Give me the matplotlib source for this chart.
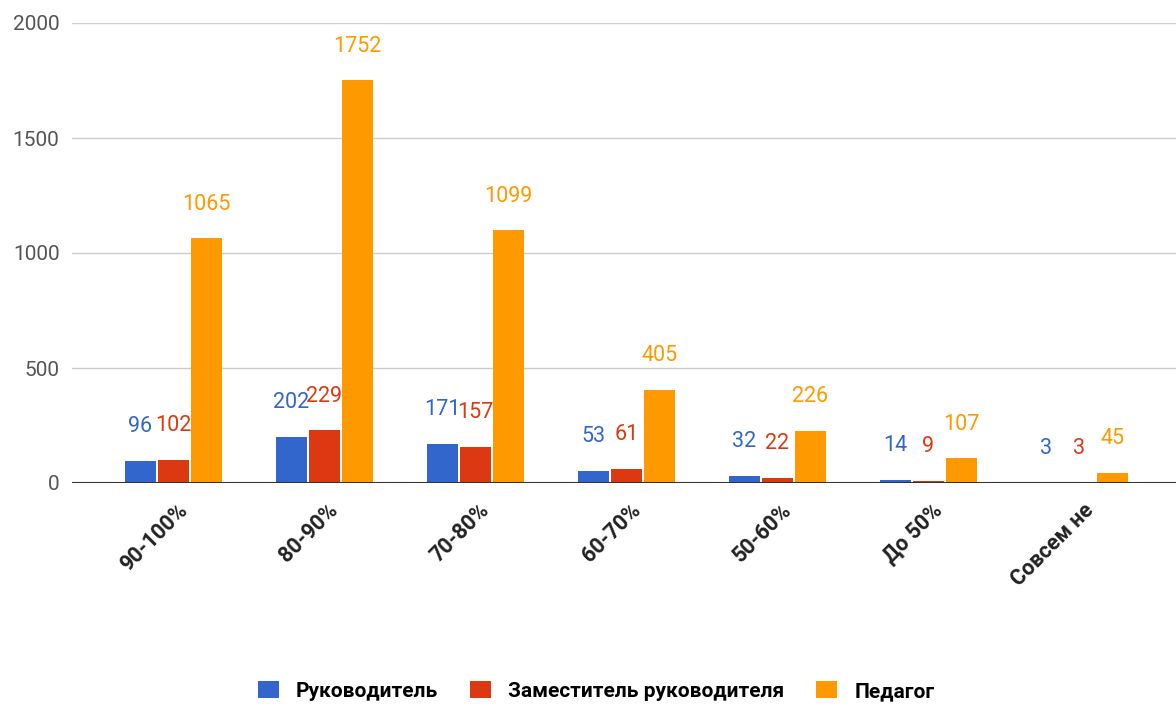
import matplotlib
matplotlib.use('Agg')
from matplotlib import pyplot as plt
from matplotlib import transforms
import numpy as np

categories = ['90-100%', '80-90%', '70-80%', '60-70%', '50-60%', 'До 50%', 'Совсем не']
series_names = ['Руководитель', 'Заместитель руководителя', 'Педагог']
rukovoditel = [96, 202, 171, 53, 32, 14, 3]
zamestitel = [102, 229, 157, 61, 22, 9, 3]
pedagog = [1065, 1752, 1099, 405, 226, 107, 45]
colors = ['#3366cc', '#dc3912', '#ff9900']

plt.rcParams['font.family'] = ['Roboto', 'DejaVu Sans']

fig = plt.figure(figsize=(11.76, 7.04), dpi=100)
ax = fig.add_axes([72 / 1176, 1 - 483 / 704, 1 - 72 / 1176, 460 / 704])

x = np.arange(len(categories))
width = 0.205
step = 0.219
for i, (name, vals) in enumerate(zip(series_names, [rukovoditel, zamestitel, pedagog])):
    pos = x + (i - 1) * step
    ax.bar(pos, vals, width, color=colors[i], label=name, zorder=3)
    for p, v in zip(pos, vals):
        ax.annotate(str(v), (p, v), xytext=(0, 24.5), textcoords='offset points',
                    ha='center', va='center', color=colors[i], fontsize=15.5)

ax.set_xlim(-0.67, 6.64)
ax.set_ylim(0, 2000)
ax.set_yticks([0, 500, 1000, 1500, 2000])
ax.grid(axis='y', color='#cccccc', linewidth=1, zorder=0)
ax.axhline(0, color='#333333', linewidth=1.5, zorder=4)
for s in ax.spines.values():
    s.set_visible(False)
ax.tick_params(axis='y', length=0, pad=9, labelsize=15, labelcolor='#555555')
ax.tick_params(axis='x', length=0, pad=12)
ax.set_xticks(x)
ax.set_xticklabels(categories, rotation=45, ha='right', rotation_mode='anchor',
                   fontsize=15.5, fontweight='bold', color='#222222')
offset = transforms.ScaledTranslation(3 / 100, 0, fig.dpi_scale_trans)
for lbl in ax.get_xticklabels():
    lbl.set_transform(lbl.get_transform() + offset)

fig.legend(loc='center', bbox_to_anchor=(0.507, 1 - 691 / 704), ncol=3, frameon=False,
           handlelength=1.0, handleheight=0.9, handletextpad=0.82, columnspacing=1.54,
           borderpad=0, prop={'size': 15, 'weight': 'bold'})

fig.savefig('out.png', dpi=100)
